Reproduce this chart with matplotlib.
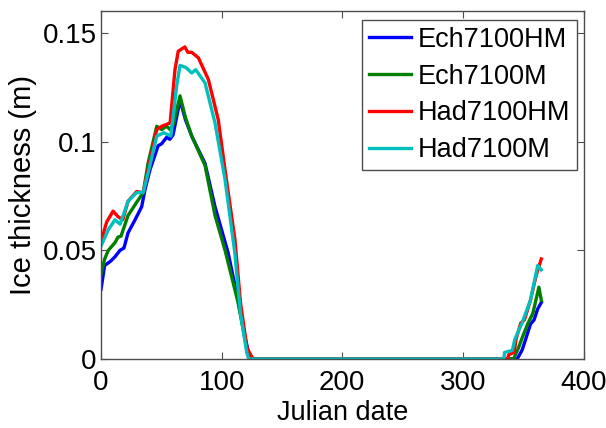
import matplotlib
matplotlib.use('Agg')
import matplotlib.pyplot as plt

# Julian day / ice thickness (m)
ech_hm_day = [0, 3, 8, 11.6, 15.8, 19, 22.4, 28.2, 33.7, 36.5, 40.6, 47.3, 50.3, 54.5,
              57, 59.7, 65.5, 70, 75.2, 80, 86.2, 94.5, 105.3, 113.6, 119.4, 123.5,
              345, 349, 352, 356, 359, 362, 365]
ech_hm_val = [0.032, 0.043, 0.045, 0.047, 0.050, 0.051, 0.058, 0.064, 0.070, 0.078, 0.087,
              0.098, 0.099, 0.102, 0.101, 0.103, 0.119, 0.110, 0.1025, 0.097, 0.090, 0.070,
              0.049, 0.027, 0.010, 0.0,
              0.0, 0.004, 0.009, 0.016, 0.018, 0.023, 0.026]

ech_m_day = [0, 3, 6.1, 11.6, 14, 16.6, 22.4, 29.5, 35, 39, 46.2, 50.3, 54.5, 57.3,
             60, 65.5, 70, 75.2, 86.2, 94.5, 102.8, 113.6, 120.8, 123,
             342, 346, 350, 354, 358, 363, 365]
ech_m_val = [0.039, 0.046, 0.050, 0.0535, 0.056, 0.0565, 0.066, 0.072, 0.0765, 0.090,
             0.107, 0.1055, 0.107, 0.1055, 0.108, 0.121, 0.111, 0.1025, 0.089, 0.066,
             0.050, 0.026, 0.005, 0.0,
             0.0, 0.005, 0.011, 0.0165, 0.021, 0.033, 0.027]

had_hm_day = [0, 4.7, 10, 14, 18, 22.4, 29.5, 35, 39, 46.2, 50.3, 57.3, 61.3, 64,
              69.5, 72, 75.2, 80.7, 89, 97.2, 102.8, 111, 115.6, 121, 126,
              337, 338, 342.5, 344, 348, 351, 356, 361, 365]
had_hm_val = [0.054, 0.063, 0.068, 0.0655, 0.064, 0.0725, 0.077, 0.0765, 0.087, 0.1055,
              0.107, 0.1085, 0.133, 0.1415, 0.1435, 0.141, 0.141, 0.1385, 0.1285, 0.110,
              0.087, 0.055, 0.026, 0.005, 0.0,
              0.0, 0.002, 0.003, 0.009, 0.0165, 0.018, 0.027, 0.039, 0.046]

had_m_day = [0, 6.1, 11.6, 15.8, 22.4, 29.5, 35, 39, 46.2, 52, 57.9, 62.7, 65.5, 70.5,
             75.2, 78.5, 86.2, 94.5, 102.8, 111, 115.6, 120.8, 122.5,
             334, 334.5, 341, 343, 349, 356, 362, 365]
had_m_val = [0.052, 0.0595, 0.064, 0.062, 0.0725, 0.0765, 0.0765, 0.0855, 0.1025, 0.104,
             0.1025, 0.1255, 0.135, 0.134, 0.1315, 0.133, 0.127, 0.1085, 0.0825, 0.0485,
             0.021, 0.003, 0.0,
             0.0, 0.003, 0.004, 0.009, 0.0165, 0.027, 0.043, 0.041]

series_names = ['Ech7100HM', 'Ech7100M', 'Had7100HM', 'Had7100M']
series_colors = [(0, 0, 1), (0, 0.5, 0), (1, 0, 0), (0, 0.75, 0.75)]

x_ticks = [0, 100, 200, 300, 400]
y_ticks = [0, 0.05, 0.1, 0.15]
y_tick_labels = ['0', '0.05', '0.1', '0.15']

plt.rcParams['font.family'] = ['Liberation Sans', 'DejaVu Sans']
plt.rcParams['font.size'] = 19.5

fig = plt.figure(figsize=(6.06, 4.28), dpi=100)
ax = fig.add_axes([0.1667, 0.1612, 0.7962, 0.8131])

data = [(ech_hm_day, ech_hm_val), (ech_m_day, ech_m_val),
        (had_hm_day, had_hm_val), (had_m_day, had_m_val)]
for (days, vals), name, color in zip(data, series_names, series_colors):
    ax.plot(days, vals, color=color, linewidth=2.4, label=name)

ax.set_xlim(0, 400)
ax.set_ylim(0, 0.16)
ax.set_xticks(x_ticks)
ax.set_xticklabels([str(t) for t in x_ticks])
ax.set_yticks(y_ticks)
ax.set_yticklabels(y_tick_labels)
ax.tick_params(direction='in', length=5, width=0.8, color='0.3',
               top=True, right=True, labelsize=20)
ax.tick_params(axis='x', pad=8)
ax.tick_params(axis='y', pad=3)
for sp in ax.spines.values():
    sp.set_color('0.3')
    sp.set_linewidth(1.0)

ax.set_xlabel('Julian date', labelpad=3)
ax.set_ylabel('Ice thickness (m)', fontsize=21)
ax.yaxis.set_label_coords(-0.162, 0.5)
ax.yaxis.label.set_va('center')

leg = ax.legend(loc='upper right', bbox_to_anchor=(0.9865, 0.974), borderaxespad=0,
                fancybox=False, framealpha=1, edgecolor='0.3', handlelength=1.55,
                handletextpad=0.25, labelspacing=0.4, borderpad=0.25)
leg.get_frame().set_linewidth(1.0)

fig.savefig('out.png', dpi=100)
